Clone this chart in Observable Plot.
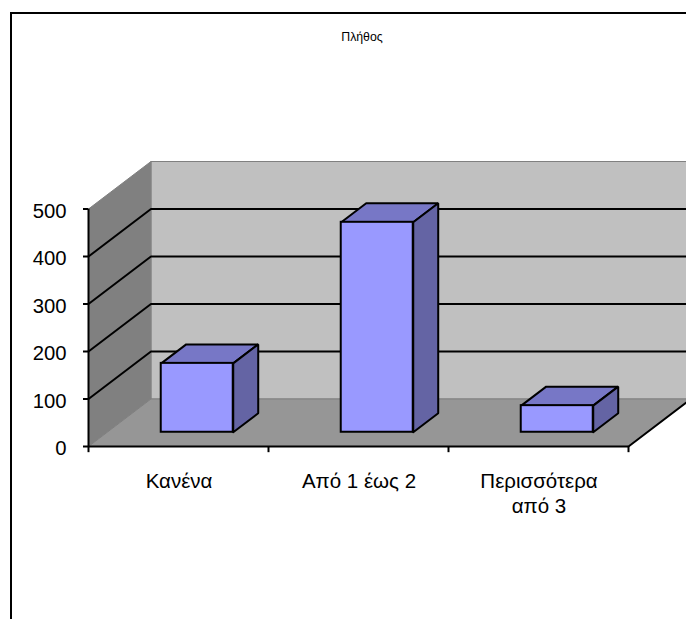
<!DOCTYPE html>
<html>
<head>
<meta charset="utf-8">
<script src="https://cdn.jsdelivr.net/npm/d3@7"></script>
<script src="https://cdn.jsdelivr.net/npm/@observablehq/plot@0.6"></script>
<style>
  html, body { margin: 0; padding: 0; background: #fff; width: 686px; height: 619px; overflow: hidden; }
  #frame { position: absolute; left: 10px; top: 12px; width: 800px; height: 800px; border: 2px solid #000; }
  #title { position: absolute; left: 262px; width: 200px; top: 30px; text-align: center;
           font: 12.3px "Liberation Sans", Arial, sans-serif; color: #000; }
  #chart { position: absolute; left: 0; top: 0; }
  #chart svg { background: transparent; display: block; }
</style>
</head>
<body>
<div id="frame"></div>
<div id="chart"></div>
<div id="title">Πλήθος</div>
<script>
const categories = ["Κανένα", "Από 1 έως 2", "Περισσότερα\nαπό 3"];
const values = [145, 442, 56];
const yTicks = [0, 100, 200, 300, 400, 500];
const gridValues = [100, 200, 300, 400];
const xTicks = [0, 1, 2, 3];

// Oblique depth of the 3-D box, in data units of each scale
const depthX = 0.347;
const depthY = 100;
const barWidth = 0.4;
const barNear = 0.3;
const barFar = 0.7;

// project a (category position, value, depth 0..1) onto the flat scales
const P = (x, v, z) => ({px: x + z * depthX, py: v + z * depthY});
const face = (pts, fill, stroke, strokeWidth) =>
  Plot.line([...pts, pts[0]].map(([x, v, z]) => P(x, v, z)), {
    x: "px", y: "py", fill, stroke, strokeWidth, strokeLinejoin: "miter", curve: "linear"
  });

const wallGrey = "#c0c0c0", sideGrey = "#808080", floorGrey = "#969696";
const barFront = "#9999ff", barTop = "#7777c6", barSide = "#6464a4";
const xEnd = xTicks[xTicks.length - 1], yEnd = yTicks[yTicks.length - 1];

const marks = [
  // back wall, side wall, floor
  face([[0, 0, 1], [xEnd, 0, 1], [xEnd, yEnd, 1], [0, yEnd, 1]], wallGrey, sideGrey, 1),
  face([[0, 0, 0], [0, 0, 1], [0, yEnd, 1], [0, yEnd, 0]], sideGrey, sideGrey, 1),
  face([[0, 0, 0], [xEnd, 0, 0], [xEnd, 0, 1], [0, 0, 1]], floorGrey, sideGrey, 1),
  // gridlines on both walls
  ...gridValues.map(v => Plot.line([P(0, v, 0), P(0, v, 1), P(xEnd, v, 1)], {
    x: "px", y: "py", stroke: "#000", strokeWidth: 2, curve: "linear"
  })),
  // floor's right edge
  Plot.line([P(xEnd, 0, 0), P(xEnd, 0, 1)], {x: "px", y: "py", stroke: "#000", strokeWidth: 2, curve: "linear"}),
  // axis lines and category ticks
  Plot.ruleX(xTicks.slice(0, 1), {x: d => d, y1: 0, y2: yEnd, stroke: "#000", strokeWidth: 2}),
  Plot.ruleY([0], {x1: 0, x2: xEnd, stroke: "#000", strokeWidth: 2}),
  Plot.ruleX(xTicks, {x: d => d, y1: 0, y2: -13, stroke: "#000", strokeWidth: 2}),
  Plot.axisY({ticks: yTicks, tickSize: 5, tickPadding: 17, fontSize: 20.3, strokeWidth: 2, label: null, tickFormat: d => String(d), text: null}),
  Plot.axisY({ticks: yTicks, tickSize: 0, tickPadding: 22, fontSize: 20.3, label: null, tickFormat: d => String(d), dy: 2}),
  // bars
  ...values.flatMap((v, i) => {
    const a = i + 0.5 - barWidth / 2, b = i + 0.5 + barWidth / 2;
    return [
      face([[a, v, barNear], [b, v, barNear], [b, v, barFar], [a, v, barFar]], barTop, "#000", 2),
      face([[b, 0, barNear], [b, 0, barFar], [b, v, barFar], [b, v, barNear]], barSide, "#000", 2)
    ];
  }),
  Plot.rect(values, {
    x1: (v, i) => P(i + 0.5 - barWidth / 2, 0, barNear).px,
    x2: (v, i) => P(i + 0.5 + barWidth / 2, 0, barNear).px,
    y1: () => P(0, 0, barNear).py,
    y2: v => P(0, v, barNear).py,
    fill: barFront, stroke: "#000", strokeWidth: 2
  }),
  // category labels
  Plot.text(categories, {
    x: (d, i) => i + 0.5, y: 0, text: d => d,
    lineAnchor: "top", dy: 24.5, dx: 0.5, fontSize: 20.5, lineHeight: 1.2, fill: "#000"
  })
];

const chart = Plot.plot({
  width: 686, height: 619,
  marginLeft: 88, marginRight: 58, marginTop: 208.5, marginBottom: 173,
  style: {fontFamily: "'Liberation Sans', Arial, sans-serif", fontSize: "20px", background: "transparent", color: "#000"},
  x: {type: "linear", domain: [0, xEnd], axis: null},
  y: {type: "linear", domain: [0, yEnd], axis: null},
  marks
});
document.getElementById("chart").append(chart);
</script>
</body>
</html>
